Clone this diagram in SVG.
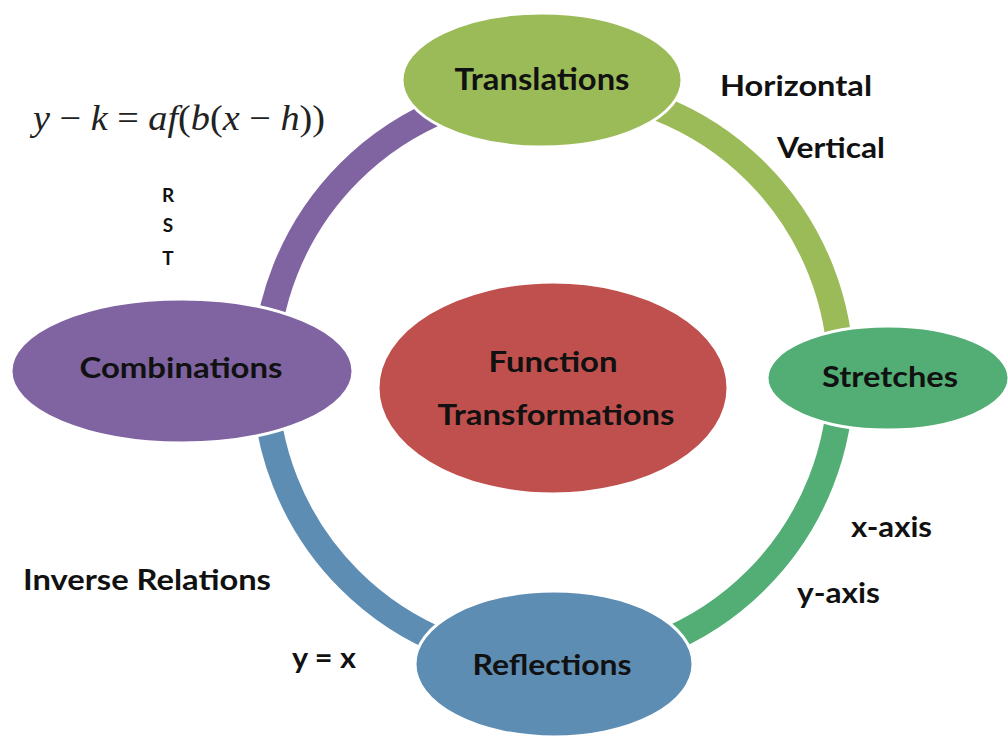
<svg xmlns="http://www.w3.org/2000/svg" width="1008" height="741" viewBox="0 0 1008 741">
<style>
.arc{fill:none;stroke-width:26}
.node{stroke:#ffffff;stroke-width:3}
.lbl{font-family:Lato,"Open Sans","Liberation Sans",sans-serif;font-weight:bold;fill:#111111}
.eq{font-family:"Liberation Serif","Times New Roman",serif;font-size:35px;fill:#222222}
</style>
<rect width="1008" height="741" fill="#ffffff"/>
<g id="connectors">
<path class="arc" stroke="#8064A2" d="M265,376 A288,288 0 0 1 553,88"/>
<path class="arc" stroke="#9BBB59" d="M553,88 A288,288 0 0 1 841,376"/>
<path class="arc" stroke="#52AE74" d="M841,376 A288,288 0 0 1 553,664"/>
<path class="arc" stroke="#5E8DB4" d="M553,664 A288,288 0 0 1 265,376"/>
</g>
<g id="center">
<ellipse class="node" cx="553" cy="388" rx="175" ry="106" fill="#C0504D"/>
<text class="lbl" x="553" y="372" font-size="29" text-anchor="middle" textLength="129" lengthAdjust="spacingAndGlyphs">Function</text>
<text class="lbl" x="556" y="425" font-size="29" text-anchor="middle" textLength="237" lengthAdjust="spacingAndGlyphs">Transformations</text>
</g>
<g id="translations">
<ellipse class="node" cx="542" cy="80" rx="140" ry="67" fill="#9BBB59"/>
<text class="lbl" x="542" y="90" font-size="30" text-anchor="middle" textLength="175" lengthAdjust="spacingAndGlyphs">Translations</text>
</g>
<g id="stretches">
<ellipse class="node" cx="888" cy="378" rx="121" ry="52" fill="#52AE74"/>
<text class="lbl" x="890" y="387" font-size="29" text-anchor="middle" textLength="136" lengthAdjust="spacingAndGlyphs">Stretches</text>
</g>
<g id="reflections">
<ellipse class="node" cx="554" cy="664" rx="139" ry="73" fill="#5E8DB4"/>
<text class="lbl" x="552" y="675" font-size="29" text-anchor="middle" textLength="159" lengthAdjust="spacingAndGlyphs">Reflections</text>
</g>
<g id="combinations">
<ellipse class="node" cx="182" cy="371" rx="171" ry="72" fill="#8064A2"/>
<text class="lbl" x="181" y="378" font-size="29" text-anchor="middle" textLength="203" lengthAdjust="spacingAndGlyphs">Combinations</text>
</g>
<g id="labels">
<text class="lbl" x="720" y="96" font-size="29" textLength="152" lengthAdjust="spacingAndGlyphs">Horizontal</text>
<text class="lbl" x="777" y="158" font-size="29" textLength="108" lengthAdjust="spacingAndGlyphs">Vertical</text>
<text class="lbl" x="851" y="537" font-size="29" textLength="81" lengthAdjust="spacingAndGlyphs">x-axis</text>
<text class="lbl" x="797" y="603" font-size="29" textLength="83" lengthAdjust="spacingAndGlyphs">y-axis</text>
<text class="lbl" x="23" y="590" font-size="29" textLength="248" lengthAdjust="spacingAndGlyphs">Inverse Relations</text>
<text class="lbl" x="292" y="668" font-size="29" textLength="64" lengthAdjust="spacingAndGlyphs">y = x</text>
<text class="lbl" x="168" y="202" font-size="19" text-anchor="middle">R</text>
<text class="lbl" x="168" y="232" font-size="19" text-anchor="middle">S</text>
<text class="lbl" x="168" y="265" font-size="19" text-anchor="middle">T</text>
<text class="eq" x="33" y="130" textLength="292" lengthAdjust="spacingAndGlyphs"><tspan font-style="italic">y</tspan> − <tspan font-style="italic">k</tspan> = <tspan font-style="italic">af</tspan>(<tspan font-style="italic">b</tspan>(<tspan font-style="italic">x</tspan> − <tspan font-style="italic">h</tspan>))</text>
</g>
</svg>
